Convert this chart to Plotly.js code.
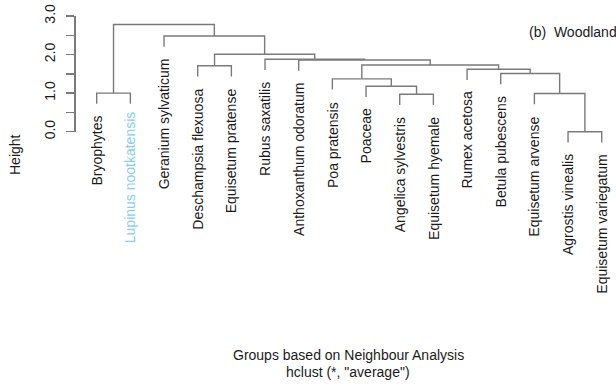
<!DOCTYPE html>
<html>
<head>
<meta charset="utf-8">
<script src="https://cdn.plot.ly/plotly-3.0.1.min.js"></script>
<style>
  html, body { margin: 0; padding: 0; background: #ffffff; }
  #chart { width: 616px; height: 385px; }
</style>
</head>
<body>
<div id="chart"></div>
<script>
// Leaf labels in plotting order (left to right)
const labels = [
  "Bryophytes", "Lupinus nootkatensis", "Geranium sylvaticum",
  "Deschampsia flexuosa", "Equisetum pratense", "Rubus saxatilis",
  "Anthoxanthum odoratum", "Poa pratensis", "Poaceae",
  "Angelica sylvestris", "Equisetum hyemale", "Rumex acetosa",
  "Betula pubescens", "Equisetum arvense", "Agrostis vinealis",
  "Equisetum variegatum"
];

// Agglomeration steps, hclust style: negative = leaf (1-based position
// in `labels`), positive = result of an earlier step (1-based)
const mergeLeft  = [-15, -10, -14, -1, -9, -8, -13, -12, -4, 6, -7, -6, 9, -3, 4];
const mergeRight = [-16, -11,   1, -2,  2,  5,   3,   7, -5, 8, 10, 11, 12, 13, 14];
const mergeHeight = [0.00, 0.97, 0.99, 1.00, 1.18, 1.37, 1.51, 1.62,
                     1.71, 1.73, 1.86, 1.88, 2.01, 2.48, 2.78];

// Axis ticks
const tickValues = [0, 0.5, 1, 1.5, 2, 2.5, 3];
const tickLabels = ["0.0", "", "1.0", "", "2.0", "", "3.0"];

const highlighted = "Lupinus nootkatensis";

// Leaves hang below their merge by a tenth of the height range
const hang = 0.1 * (Math.max(...mergeHeight) - Math.min(...mergeHeight));

// Node x position: leaves at 1..n, merges at the midpoint of their children
const nodeX = [];
function childX(c) { return c < 0 ? -c : nodeX[c - 1]; }
function childTop(c, h) { return c < 0 ? h - hang : mergeHeight[c - 1]; }

const segX = [], segY = [];
const leafEnd = new Array(labels.length).fill(0);
for (let i = 0; i < mergeHeight.length; i++) {
  const a = mergeLeft[i], b = mergeRight[i], h = mergeHeight[i];
  const xa = childX(a), xb = childX(b);
  nodeX.push((xa + xb) / 2);
  // left arm, crossbar, right arm drawn as one path
  segX.push(xa, xa, xb, xb, null);
  segY.push(childTop(a, h), h, h, childTop(b, h), null);
  if (a < 0) leafEnd[-a - 1] = h - hang;
  if (b < 0) leafEnd[-b - 1] = h - hang;
}

const lineColor = "#7a7a7a";
const textColor = "#1a1a1a";
const fontFamily = "'Liberation Sans', Arial, Helvetica, sans-serif";

const traces = [
  {
    type: "scatter", mode: "lines",
    x: segX, y: segY, connectgaps: false,
    line: { color: lineColor, width: 1.4 },
    hoverinfo: "skip", showlegend: false,
    xaxis: "x", yaxis: "y"
  },
  {
    // carries the height axis
    type: "scatter", mode: "markers",
    x: [1], y: [0], marker: { opacity: 0 },
    hoverinfo: "skip", showlegend: false,
    xaxis: "x", yaxis: "y2"
  }
];

const annotations = labels.map((lab, i) => ({
  x: i + 1, y: leafEnd[i], xref: "x", yref: "y",
  text: lab, textangle: -90, showarrow: false,
  xanchor: "center", yanchor: "top",
  yshift: lab === highlighted ? -5 : -10,
  font: { family: fontFamily, size: 14,
          color: lab === highlighted ? "#87CEEB" : textColor }
}));

annotations.push(
  { x: 15 / 616, y: 1 - 155 / 385, xref: "paper", yref: "paper",
    text: "Height", textangle: -90, showarrow: false,
    xanchor: "center", yanchor: "middle",
    font: { family: fontFamily, size: 14, color: textColor } },
  { x: 527 / 616, y: 1 - 32.5 / 385, xref: "paper", yref: "paper",
    text: "(b)  Woodland", showarrow: false,
    xanchor: "left", yanchor: "middle",
    font: { family: fontFamily, size: 14, color: textColor } },
  { x: 348.5 / 616, y: 1 - 355 / 385, xref: "paper", yref: "paper",
    text: "Groups based on Neighbour Analysis", showarrow: false,
    xanchor: "center", yanchor: "middle",
    font: { family: fontFamily, size: 14, color: textColor } },
  { x: 348 / 616, y: 1 - 372 / 385, xref: "paper", yref: "paper",
    text: "hclust (*, \"average\")", showarrow: false,
    xanchor: "center", yanchor: "middle",
    font: { family: fontFamily, size: 14, color: textColor } }
);

const hidden = { showgrid: false, zeroline: false, showline: false,
                 showticklabels: false, ticks: "" };

const layout = {
  width: 616, height: 385,
  margin: { l: 0, r: 0, t: 0, b: 0, pad: 0 },
  paper_bgcolor: "#ffffff", plot_bgcolor: "rgba(0,0,0,0)",
  showlegend: false,
  xaxis: Object.assign({ range: [-1.872, 16.424], fixedrange: true }, hidden),
  yaxis: Object.assign({ range: [-6.567, 3.415], domain: [0, 1], fixedrange: true }, hidden),
  yaxis2: {
    range: [0, 3],
    domain: [1 - 131.7 / 385, 1 - 16 / 385],
    anchor: "free", position: 74.3 / 616, side: "left",
    showline: true, linecolor: lineColor, linewidth: 1.3,
    ticks: "outside", ticklen: 8, tickwidth: 1.3, tickcolor: lineColor,
    tickvals: tickValues, ticktext: tickLabels, tickangle: -90,
    ticklabelstandoff: 6,
    tickfont: { family: fontFamily, size: 14, color: textColor },
    showgrid: false, zeroline: false, fixedrange: true
  },
  annotations: annotations
};

Plotly.newPlot("chart", traces, layout, { displayModeBar: false, staticPlot: true });
</script>
</body>
</html>
